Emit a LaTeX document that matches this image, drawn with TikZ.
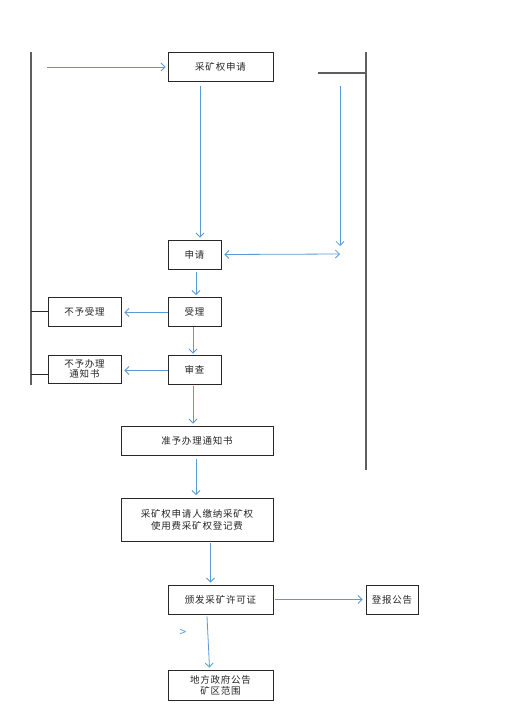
\documentclass[tikz,border=0pt]{standalone}
\usepackage{fontspec}
\setmainfont{Noto Sans CJK SC}[LetterSpace=8]
\usetikzlibrary{arrows.meta}
\definecolor{lineblue}{RGB}{91,155,213}
\definecolor{boxgray}{RGB}{40,40,40}
\definecolor{rulegray}{RGB}{95,95,95}
\tikzset{
  box/.style={draw=boxgray, line width=0.9pt, fill=white, inner sep=1pt, font=\fontsize{9.5}{11}\selectfont, align=center, text=black!85},
  arr/.style={draw=lineblue, line width=0.8pt, -{Straight Barb[length=4pt,width=8pt]}},
  darr/.style={draw=lineblue, line width=0.8pt, {Straight Barb[length=4pt,width=8pt]}-{Straight Barb[length=4pt,width=8pt]}},
  rule/.style={draw=rulegray, line width=1.1pt}
}
\begin{document}
\begin{tikzpicture}[x=1pt,y=-1pt]
\useasboundingbox[fill=white] (0,0) rectangle (530,720);
% nodes
\node[box, minimum width=105pt, minimum height=29pt] (apply) at (220.5,66.5) {采矿权申请};
\node[box, minimum width=53pt, minimum height=29pt] (sq) at (194.5,254.5) {申请};
\node[box, minimum width=53pt, minimum height=29pt] (sl) at (194.5,311.5) {受理};
\node[box, minimum width=53pt, minimum height=29pt] (sc) at (194.5,369.5) {审查};
\node[box, minimum width=73pt, minimum height=29pt] (bysl) at (84.5,311.5) {不予受理};
\node[box, minimum width=73pt, minimum height=28pt, font=\fontsize{9.5}{10.5}\selectfont] (bybl) at (84.5,369) {不予办理\\通知书};
\node[box, minimum width=152pt, minimum height=29pt] (zy) at (197,440.5) {准予办理通知书};
\node[box, minimum width=152pt, minimum height=43pt, font=\fontsize{9.5}{12.5}\selectfont] (jn) at (197,520) {采矿权申请人缴纳采矿权\\使用费采矿权登记费};
\node[box, minimum width=105pt, minimum height=29pt] (bf) at (220.5,599.5) {颁发采矿许可证};
\node[box, minimum width=52pt, minimum height=29pt] (db) at (392,599.5) {登报公告};
\node[box, minimum width=105pt, minimum height=30pt, font=\fontsize{9.5}{11}\selectfont] (df) at (220.5,685) {地方政府公告\\矿区范围};
\node[text=lineblue, font=\fontsize{12}{13}\selectfont, inner sep=0pt] (stray) at (183,633) {>};
% coordinates
\coordinate (Ltop) at (31,52);
\coordinate (Lbot) at (31,385);
\coordinate (Rtop) at (366,52);
\coordinate (Rbot) at (366,470);
\coordinate (Rtick) at (318,73);
\coordinate (Rtickend) at (366,73);
\coordinate (inA) at (47,67);
\coordinate (Rs) at (340,86);
\coordinate (Re) at (340,246);
\coordinate (Rmid) at (340,254);
% frame lines
\draw[rule] (Ltop) -- (Lbot);
\draw[rule] (Rtop) -- (Rbot);
\draw[rule] (Rtick) -- (Rtickend);
\draw[line width=0.9pt, draw=boxgray] (bysl.west) -- (bysl.west -| Ltop);
\draw[line width=0.9pt, draw=boxgray] ([yshift=-5pt]bybl.west) -- ([yshift=-5pt]bybl.west -| Ltop);
% arrows
\draw[arr] (inA) -- ([xshift=-2pt]apply.west |- inA);
\draw[arr] ([xshift=-20.5pt,yshift=-5pt]apply.south) -- ([xshift=5.5pt,yshift=2pt]sq.north);
\draw[arr] (Rs) -- (Re);
\draw[darr] ([xshift=3pt]sq.east) -- (Rmid);
\draw[arr] ([xshift=1.5pt,yshift=-3pt]sq.south) -- ([xshift=1.5pt,yshift=1.5pt]sl.north);
\draw[arr] ([xshift=-1.5pt,yshift=-1pt]sl.south) -- ([xshift=-1.5pt,yshift=1pt]sc.north);
\draw[arr] ([yshift=-1pt]sl.west) -- ([xshift=3pt,yshift=-1pt]bysl.east);
\draw[arr] ([yshift=-1pt]sc.west) -- ([xshift=3pt,yshift=-1.5pt]bybl.east);
\draw[arr] ([xshift=-1.5pt,yshift=-2pt]sc.south) -- ([xshift=-4pt,yshift=2pt]zy.north);
\draw[arr] ([xshift=-1pt,yshift=-4pt]zy.south) -- ([xshift=-1pt,yshift=3pt]jn.north);
\draw[arr] ([xshift=13.5pt,yshift=-1pt]jn.south) -- ([xshift=-10pt,yshift=2pt]bf.north);
\draw[arr] ([xshift=2pt]bf.east) -- ([xshift=-3pt]db.west);
\draw[arr] ([xshift=-13.5pt,yshift=-2pt]bf.south) -- ([xshift=-11pt,yshift=2pt]df.north);
\end{tikzpicture}
\end{document}
